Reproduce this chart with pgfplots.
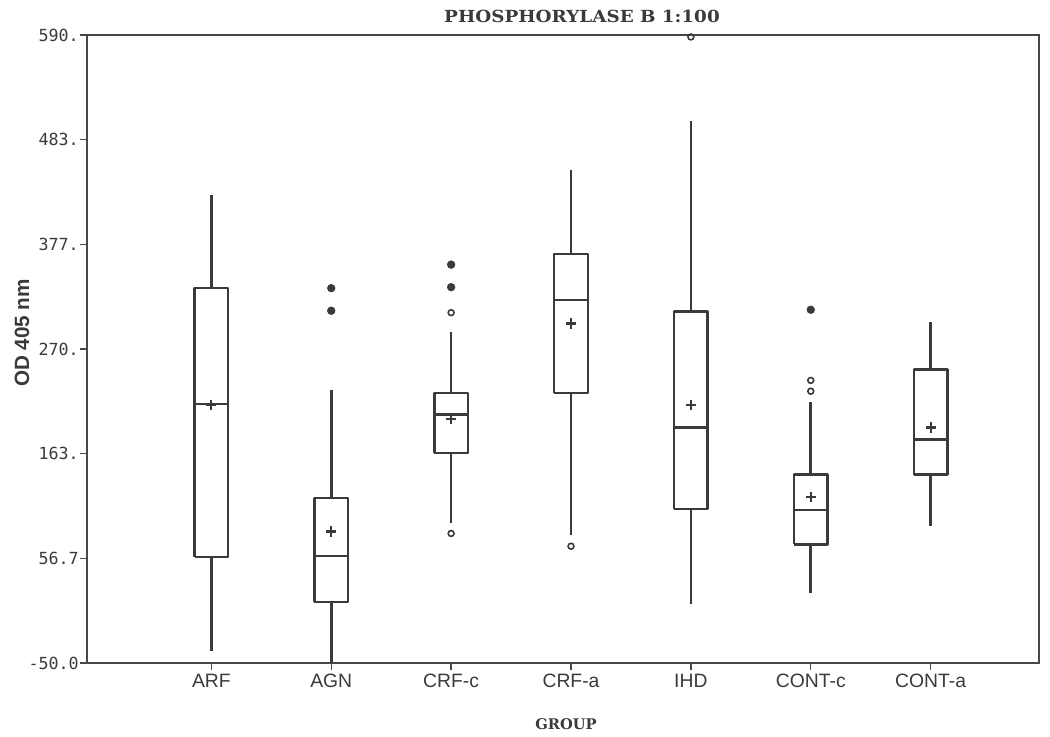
\documentclass[border=0pt]{standalone}
\usepackage{fontspec}
\setmainfont{Liberation Sans}
\newfontfamily\monofont{DejaVu Sans Mono}
\newfontfamily\titlefont[FakeStretch=1.1]{DejaVu Serif}
\newfontfamily\groupfont{DejaVu Serif}
\usepackage{pgfplots}
\pgfplotsset{compat=1.18}
\definecolor{ink}{HTML}{3A3A3A}
\definecolor{frame}{HTML}{484848}
% #1 left edge, #2 centre, #3 right edge, #4 lower whisker, #5 lower quartile, #6 median, #7 upper quartile, #8 upper whisker
\newcommand{\BOX}[8]{%
  \addplot[boxst] coordinates {(#1,#5) (#3,#5) (#3,#7) (#1,#7) (#1,#5)};
  \addplot[boxst] coordinates {(#1,#6) (#3,#6)};
  \addplot[boxst] coordinates {(#2,#7) (#2,#8)};
  \addplot[boxst] coordinates {(#2,#4) (#2,#5)};
}
\begin{document}
\begin{tikzpicture}
\begin{axis}[
  name=ax,
  scale only axis,
  width=714pt, height=471pt,
  xmin=-1.0375, xmax=6.904,
  ymin=-50, ymax=590,
  axis line style={draw=frame, line width=1.4pt},
  xtick={0,1,2,3,4,5,6},
  xticklabels={ARF,AGN,CRF-c,CRF-a,IHD,CONT-c,CONT-a},
  ytick={-50,56.667,163.333,270,376.667,483.333,590},
  yticklabels={-50.0,56.7,163.,270.,377.,483.,590.},
  tick align=outside,
  major tick length=5pt,
  tick style={draw=frame, line width=1pt},
  xtick pos=bottom, ytick pos=left,
  xticklabel style={font=\fontsize{14.5pt}{17pt}\selectfont, text=ink},
  yticklabel style={font=\monofont\fontsize{12.5pt}{14pt}\selectfont, text=ink, inner sep=1pt},
  clip=false,
  boxst/.style={draw=ink, line width=1.9pt, line join=round, mark=none},
]
\BOX{-0.14}{0}{0.14}{-38}{58}{214}{332}{427}
\BOX{0.86}{1}{1.14}{-50}{12}{59}{118}{228}
\BOX{1.86}{2}{2.14}{93}{164}{203}{225}{287}
\BOX{2.86}{3}{3.14}{80}{225}{320}{367}{452}
\BOX{3.86}{4}{4.14}{10}{107}{190}{308}{502}
\BOX{4.86}{5}{5.14}{21}{71}{106}{142}{216}
\BOX{5.86}{6}{6.14}{90}{142}{178}{249}{298}
% means
\addplot[only marks, mark=+, mark size=3.8pt, mark options={draw=ink, line width=1.6pt}] coordinates {
(0,213) (1,84) (2,199) (3,296) (4,213) (5,119) (6,190)};
% filled outliers
\addplot[only marks, mark=*, mark size=2.9pt, mark options={draw=ink, fill=ink}] coordinates {
(1,309) (1,332) (2,333) (2,356) (5,310)};
% open outliers
\addplot[only marks, mark=o, mark size=2.2pt, mark options={draw=ink, line width=1.2pt, fill=white}] coordinates {
(2,307) (2,82) (3,69) (4,588) (5,238) (5,227)};
\end{axis}
\node[anchor=base, font=\titlefont\bfseries\fontsize{12.5pt}{15pt}\selectfont, text=ink] at ([xshift=371.25pt, yshift=9pt]ax.north west) {PHOSPHORYLASE B 1:100};
\node[anchor=base, font=\groupfont\bfseries\fontsize{11pt}{13pt}\selectfont, text=ink] at ([xshift=359.25pt, yshift=-50.25pt]ax.south west) {GROUP};
\node[rotate=90, anchor=center, font=\bfseries\fontsize{15.5pt}{18pt}\selectfont, text=ink] at ([xshift=-48.75pt, yshift=247.5pt]ax.south west) {OD 405 nm};
\pgfresetboundingbox
\path[use as bounding box] ([shift={(-65.25pt,-55.5pt)}]ax.south west) rectangle ([shift={(8.25pt,26.25pt)}]ax.north east);
\end{tikzpicture}
\end{document}
